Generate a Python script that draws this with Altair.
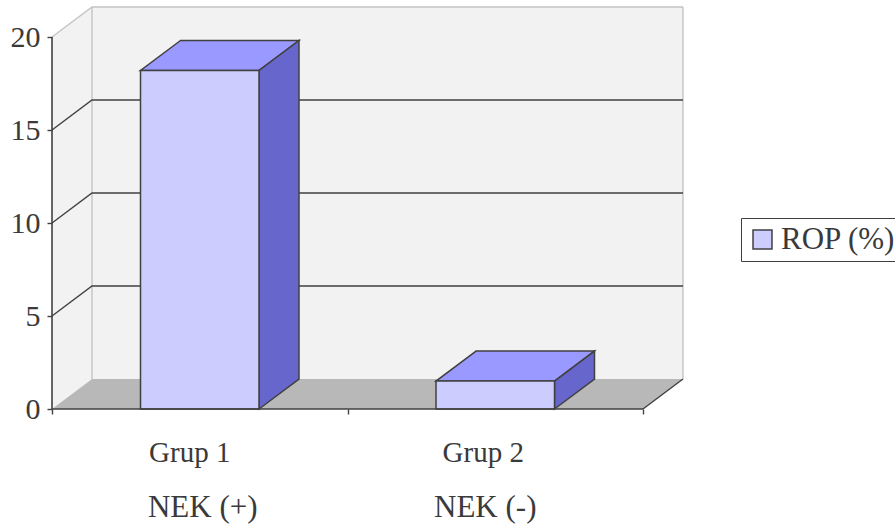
import altair as alt
import pandas as pd

# Chart values
groups = ["Grup 1", "Grup 2"]
subgroups = ["NEK (+)", "NEK (-)"]
rop_percent = [18.2, 1.5]
series_name = "ROP (%)"
y_ticks = [0, 5, 10, 15, 20]

# Oblique projection: depth of the box expressed in axis units
PX_PER_CAT = 295.5
PX_PER_VAL = 18.6
DEPTH_X = 40 / PX_PER_CAT
DEPTH_Y = 30 / PX_PER_VAL
N_CATS = len(groups)
Y_MAX = max(y_ticks)
BAR_MARGIN = 88.5 / PX_PER_CAT
BAR_WIDTH = 118.5 / PX_PER_CAT

X_SCALE = alt.Scale(domain=[0, N_CATS + DEPTH_X], nice=False, zero=False)
Y_SCALE = alt.Scale(domain=[0, Y_MAX + DEPTH_Y], nice=False, zero=False)

INK = "#404040"
TEXT = "#3a3a3a"
LIGHT = "#c4c4c4"
FONT = "Liberation Serif"


def X():
    return alt.X("x:Q", scale=X_SCALE, title=None)


def Y():
    return alt.Y("y:Q", scale=Y_SCALE, title=None)


# Axes: real ticks and value labels; the axis lines are drawn separately along the front edge
axes = alt.Chart(pd.DataFrame({"x": [0, N_CATS], "y": [0, Y_MAX]})).mark_point(opacity=0).encode(
    alt.X(
        "x:Q", scale=X_SCALE, title=None,
        axis=alt.Axis(values=list(range(N_CATS + 1)), labels=False, grid=False, zindex=1,
                      domain=False, ticks=True, tickColor=INK, tickWidth=1.4, tickSize=5),
    ),
    alt.Y(
        "y:Q", scale=Y_SCALE, title=None,
        axis=alt.Axis(values=y_ticks, grid=False, domain=False, zindex=1,
                      tickColor=INK, tickWidth=1.4, tickSize=5, labelFont=FONT,
                      labelFontSize=30, labelColor=TEXT, labelPadding=7),
    ),
)

# Left wall, back wall and floor of the box
left_wall = alt.Chart(pd.DataFrame({
    "x": [0, DEPTH_X], "y": [0, DEPTH_Y], "y2": [Y_MAX, Y_MAX + DEPTH_Y],
})).mark_area(color="#f2f2f2").encode(X(), Y(), y2="y2:Q")

back_wall = alt.Chart(pd.DataFrame({
    "x": [DEPTH_X], "x2": [N_CATS + DEPTH_X], "y": [DEPTH_Y], "y2": [Y_MAX + DEPTH_Y],
})).mark_rect(color="#f2f2f2").encode(X(), x2="x2:Q", y=Y(), y2="y2:Q")

floor = alt.Chart(pd.DataFrame({
    "y": [0, DEPTH_Y], "x": [0, DEPTH_X], "x2": [N_CATS, N_CATS + DEPTH_X],
})).mark_area(color="#b8b8b8", orient="horizontal").encode(X(), x2="x2:Q", y=Y())

# Grid lines wrap from the left wall onto the back wall
grid_rows = []
for v in y_ticks[1:]:
    grid_rows += [
        {"v": v, "x": 0, "y": v},
        {"v": v, "x": DEPTH_X, "y": v + DEPTH_Y},
        {"v": v, "x": N_CATS + DEPTH_X, "y": v + DEPTH_Y},
    ]
grid_df = pd.DataFrame(grid_rows)
grid_dark = alt.Chart(grid_df[grid_df.v < Y_MAX]).mark_line(
    color=INK, strokeWidth=1.4
).encode(X(), Y(), detail="v:N")
grid_top = alt.Chart(grid_df[grid_df.v == Y_MAX]).mark_line(
    color=LIGHT, strokeWidth=1.4
).encode(X(), Y(), detail="v:N")

# Light vertical edges of the back wall
wall_edges = alt.Chart(pd.DataFrame({
    "edge": ["inner", "inner", "outer", "outer"],
    "x": [DEPTH_X, DEPTH_X, N_CATS + DEPTH_X, N_CATS + DEPTH_X],
    "y": [DEPTH_Y, Y_MAX + DEPTH_Y, DEPTH_Y, Y_MAX + DEPTH_Y],
})).mark_line(color=LIGHT, strokeWidth=1.4).encode(
    X(), Y(), detail="edge:N", order="y:Q",
)

floor_edge = alt.Chart(pd.DataFrame({
    "x": [N_CATS, N_CATS + DEPTH_X], "y": [0, DEPTH_Y],
})).mark_line(color=INK, strokeWidth=1.4).encode(X(), Y())

# Three visible faces of every bar
front_rows, top_rows, side_rows = [], [], []
for i, (g, v) in enumerate(zip(groups, rop_percent)):
    left = i + BAR_MARGIN
    right = left + BAR_WIDTH
    front_rows.append({"series": series_name, "x": left, "x2": right, "y": 0, "y2": v})
    top_rows += [
        {"g": g, "y": v, "x": left, "x2": right},
        {"g": g, "y": v + DEPTH_Y, "x": left + DEPTH_X, "x2": right + DEPTH_X},
    ]
    side_rows += [
        {"g": g, "x": right, "y": 0, "y2": v},
        {"g": g, "x": right + DEPTH_X, "y": DEPTH_Y, "y2": v + DEPTH_Y},
    ]

bar_top = alt.Chart(pd.DataFrame(top_rows)).mark_area(
    color="#9999ff", stroke=INK, strokeWidth=1.5, orient="horizontal"
).encode(X(), x2="x2:Q", y=Y(), detail="g:N")

bar_side = alt.Chart(pd.DataFrame(side_rows)).mark_area(
    color="#6666cc", stroke=INK, strokeWidth=1.5
).encode(X(), Y(), y2="y2:Q", detail="g:N")

bar_front = alt.Chart(pd.DataFrame(front_rows)).mark_rect(
    stroke=INK, strokeWidth=1.5
).encode(
    X(),
    x2="x2:Q",
    y=Y(),
    y2="y2:Q",
    color=alt.Color(
        "series:N",
        scale=alt.Scale(domain=[series_name], range=["#ccccff"]),
        legend=alt.Legend(
            title=None,
            orient="none",
            legendX=689,
            legendY=211,
            padding=6,
            strokeColor=INK,
            fillColor="#ffffff",
            symbolType="square",
            symbolSize=360,
            symbolStrokeColor=INK,
            symbolStrokeWidth=1.5,
            labelFont=FONT,
            labelFontSize=31,
            labelColor=TEXT,
            labelOffset=3,
        ),
    ),
)

x_line = alt.Chart(pd.DataFrame({"x": [0], "x2": [N_CATS], "y": [0]})).mark_rule(
    color=INK, strokeWidth=1.6
).encode(X(), x2="x2:Q", y=Y())
y_line = alt.Chart(pd.DataFrame({"x": [0], "y": [0], "y2": [Y_MAX]})).mark_rule(
    color=INK, strokeWidth=1.6
).encode(X(), y=Y(), y2="y2:Q")

# Two-line category labels under the axis
label_layers = []
for i, (g, s) in enumerate(zip(groups, subgroups)):
    df = pd.DataFrame({"x": [i + 0.5], "y": [0], "t": [g], "s": [s]})
    label_layers.append(
        alt.Chart(df).mark_text(font=FONT, fontSize=29, color=TEXT,
                                dx=[-10, -12][i], dy=44).encode(X(), Y(), text="t:N")
    )
    label_layers.append(
        alt.Chart(df).mark_text(font=FONT, fontSize=31, color=TEXT,
                                dx=[3, -10][i], dy=99).encode(X(), Y(), text="s:N")
    )

chart = alt.layer(
    axes, left_wall, back_wall, floor, wall_edges, grid_dark, grid_top, floor_edge,
    bar_top, bar_side, bar_front, x_line, y_line, *label_layers,
).resolve_scale(
    x="shared", y="shared"
).properties(
    width=631,
    height=402,
    padding={"left": 52, "top": 7, "right": 212, "bottom": 118},
    autosize=alt.AutoSizeParams(type="none"),
).configure_view(stroke=None)

chart.save("out.html", embed_options={"renderer": "svg", "actions": False})
